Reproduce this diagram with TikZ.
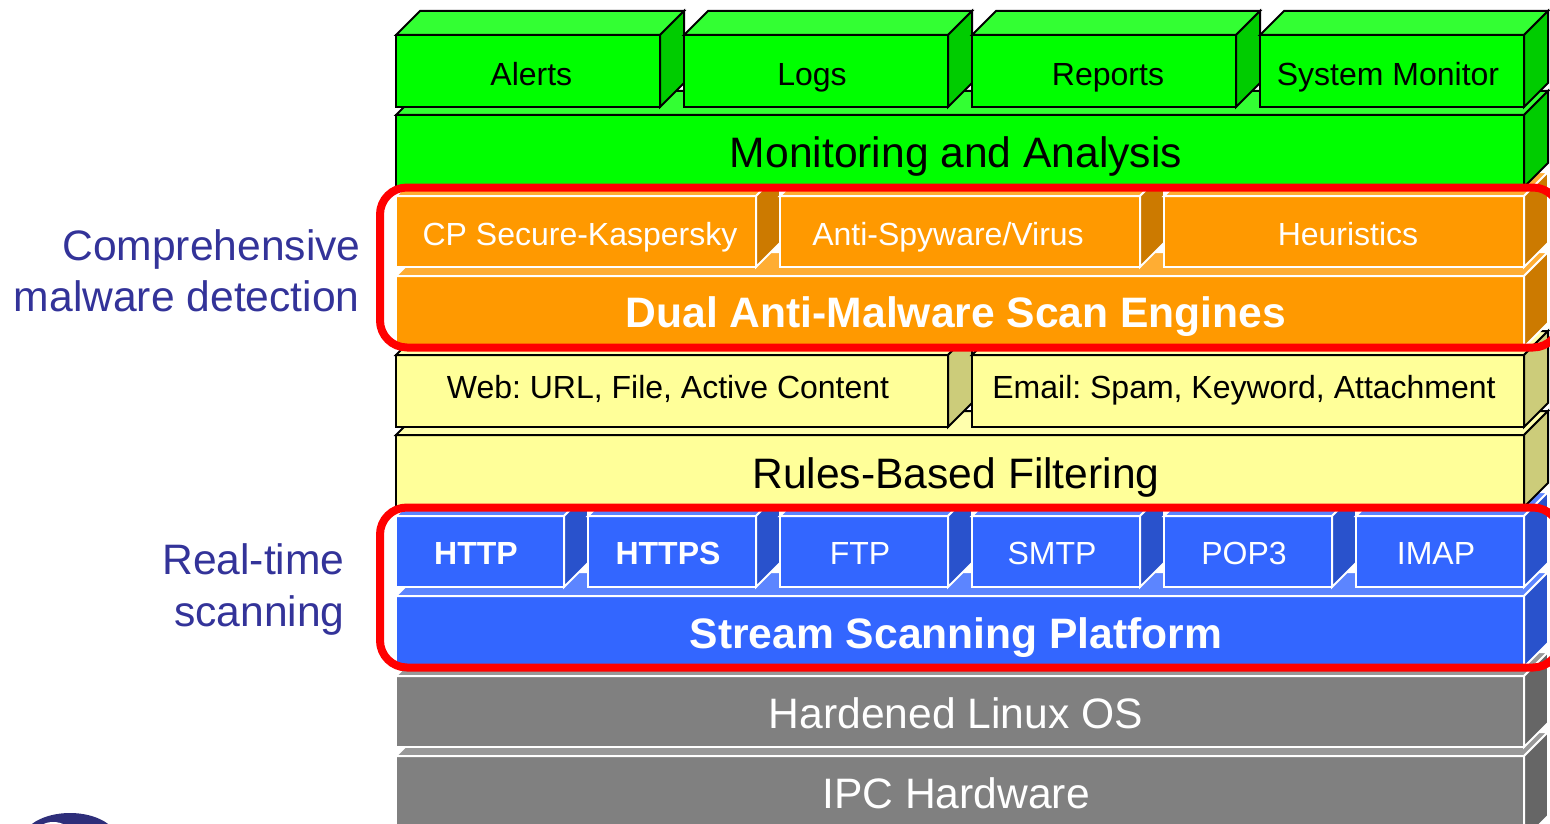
\documentclass[tikz,border=0pt]{standalone}
\usepackage{fontspec}
\setmainfont{Liberation Sans}
\usetikzlibrary{calc}
\frenchspacing
\newcommand{\blockbox}[8]{%
  % name, x1, y1, x2, y2, front colour, top colour, side colour; line colour from edgecol
  \pgfmathsetmacro{\bw}{#4-#2}\pgfmathsetmacro{\bh}{#5-#3}%
  \node[blockface,fill=#6,minimum width=\bw pt,minimum height=\bh pt] (#1) at (#2,#3) {};
  \filldraw[blockedge,fill=#7] (#1.north west) -- ++(24,-24) -- ($(#1.north east)+(24,-24)$) -- (#1.north east) -- cycle;
  \filldraw[blockedge,fill=#8] (#1.north east) -- ++(24,-24) -- ($(#1.south east)+(24,-24)$) -- (#1.south east) -- cycle;
}
\definecolor{grnF}{HTML}{00FF00}\definecolor{grnT}{HTML}{33FF33}\definecolor{grnS}{HTML}{00CC00}
\definecolor{ornF}{HTML}{FF9900}\definecolor{ornT}{HTML}{FFAD33}\definecolor{ornS}{HTML}{CC7A00}
\definecolor{yelF}{HTML}{FFFF99}\definecolor{yelT}{HTML}{FFFFAD}\definecolor{yelS}{HTML}{CCCC7A}
\definecolor{bluF}{HTML}{3366FF}\definecolor{bluT}{HTML}{5C85FF}\definecolor{bluS}{HTML}{2952CC}
\definecolor{gryF}{HTML}{808080}\definecolor{gryT}{HTML}{999999}\definecolor{gryS}{HTML}{666666}
\definecolor{sideText}{HTML}{333399}
\definecolor{logoBlue}{HTML}{2E2E7A}
\tikzset{
  edgecol/.style={draw=white},
  blockface/.style={rectangle,anchor=north west,inner sep=0pt,outer sep=0pt,line width=2pt,edgecol},
  blockedge/.style={line width=2pt,line join=miter,edgecol},
  smalltxt/.style={anchor=base,inner sep=0pt,font=\fontsize{32}{38}\selectfont},
  bigtxt/.style={anchor=base,inner sep=0pt,font=\fontsize{42.6}{50}\selectfont},
  smallbold/.style={anchor=base,inner sep=0pt,font=\fontsize{32}{38}\selectfont\bfseries},
  bigbold/.style={anchor=base,inner sep=0pt,font=\fontsize{42.6}{50}\selectfont\bfseries},
  sidetxt/.style={anchor=base east,inner sep=0pt,text=sideText,font=\fontsize{42.6}{50}\selectfont},
  redframe/.style={draw=red,line width=8pt,rounded corners=27pt},
}
\begin{document}
\begin{tikzpicture}[x=1pt,y=-1pt]
\useasboundingbox (0,0) rectangle (1550,824);
\clip (0,0) rectangle (1550,824);
% logo fragment
\fill[logoBlue] (70,841) ellipse [x radius=48,y radius=28];
\fill[white] (42,825) .. controls (48,821) and (58,821) .. (65,825) -- cycle;
% grey
\blockbox{ipc}{396}{756}{1524}{840}{gryF}{gryT}{gryS}
\blockbox{linux}{396}{676}{1524}{747}{gryF}{gryT}{gryS}
% blue
\blockbox{ssp}{396}{596}{1524}{667}{bluF}{bluT}{bluS}
\blockbox{http}{396}{516}{564}{587}{bluF}{bluT}{bluS}
\blockbox{https}{588}{516}{756}{587}{bluF}{bluT}{bluS}
\blockbox{ftp}{780}{516}{948}{587}{bluF}{bluT}{bluS}
\blockbox{smtp}{972}{516}{1140}{587}{bluF}{bluT}{bluS}
\blockbox{popt}{1164}{516}{1332}{587}{bluF}{bluT}{bluS}
\blockbox{imap}{1356}{516}{1524}{587}{bluF}{bluT}{bluS}
% yellow
\tikzset{edgecol/.style={draw=black}}
\blockbox{rules}{396}{435}{1524}{507}{yelF}{yelT}{yelS}
\blockbox{web}{396}{355}{948}{427}{yelF}{yelT}{yelS}
\blockbox{email}{972}{355}{1524}{427}{yelF}{yelT}{yelS}
% orange
\tikzset{edgecol/.style={draw=white}}
\blockbox{dual}{396}{276}{1524}{347}{ornF}{ornT}{ornS}
\blockbox{cps}{396}{196}{756}{267}{ornF}{ornT}{ornS}
\blockbox{spy}{780}{196}{1140}{267}{ornF}{ornT}{ornS}
\blockbox{heur}{1164}{196}{1524}{267}{ornF}{ornT}{ornS}
% green
\tikzset{edgecol/.style={draw=black}}
\blockbox{mon}{396}{115}{1524}{187}{grnF}{grnT}{grnS}
\blockbox{alerts}{396}{35}{660}{107}{grnF}{grnT}{grnS}
\blockbox{logs}{684}{35}{948}{107}{grnF}{grnT}{grnS}
\blockbox{reports}{972}{35}{1236}{107}{grnF}{grnT}{grnS}
\blockbox{sysmon}{1260}{35}{1524}{107}{grnF}{grnT}{grnS}
% labels
\node[smalltxt] (tAlerts) at (531.3,85.3) {Alerts};
\node[smalltxt] (tLogs) at (812,85.3) {Logs};
\node[smalltxt] (tReports) at (1108,85.3) {Reports};
\node[smalltxt] (tSys) at (1388,85.3) {System Monitor};
\node[bigtxt] (tMon) at (956,167.6) {Monitoring and Analysis};
\node[smalltxt,text=white] (tCps) at (580,245) {CP Secure-Kaspersky};
\node[smalltxt,text=white] (tSpy) at (948,245) {Anti-Spyware/Virus};
\node[smalltxt,text=white] (tHeur) at (1348,245) {Heuristics};
\node[bigbold,text=white] (tDual) at (956,327.6) {Dual Anti-Malware Scan Engines};
\node[smalltxt] (tWeb) at (668,398) {Web: URL, File, Active Content};
\node[smalltxt] (tEmail) at (1244,398) {Email: Spam, Keyword, Attachment};
\node[bigtxt] (tRules) at (956,488.6) {Rules-Based Filtering};
\node[smallbold,text=white] (tHttp) at (476,564.7) {HTTP};
\node[smallbold,text=white] (tHttps) at (668,564.7) {HTTPS};
\node[smalltxt,text=white] (tFtp) at (860,564.7) {FTP};
\node[smalltxt,text=white] (tSmtp) at (1052,564.7) {SMTP};
\node[smalltxt,text=white] (tPop) at (1244,564.7) {POP3};
\node[smalltxt,text=white] (tImap) at (1436,564.7) {IMAP};
\node[bigbold,text=white] (tStream) at (956,648.6) {Stream Scanning Platform};
\node[bigtxt,text=white] (tLinux) at (956,728.6) {Hardened Linux OS};
\node[bigtxt,text=white] (tIpc) at (956,808.6) {IPC Hardware};
% red frames
\draw[redframe] (380,187.5) rectangle (1560,347.5);
\draw[redframe] (380,507.5) rectangle (1560,667.5);
% side text
\node[sidetxt] (tComp) at (360.8,260.6) {Comprehensive};
\node[sidetxt] (tMal) at (359.8,311.6) {malware detection};
\node[sidetxt] (tReal) at (344.8,574.6) {Real-time};
\node[sidetxt] (tScan) at (344.8,626.6) {scanning};
\end{tikzpicture}
\end{document}
